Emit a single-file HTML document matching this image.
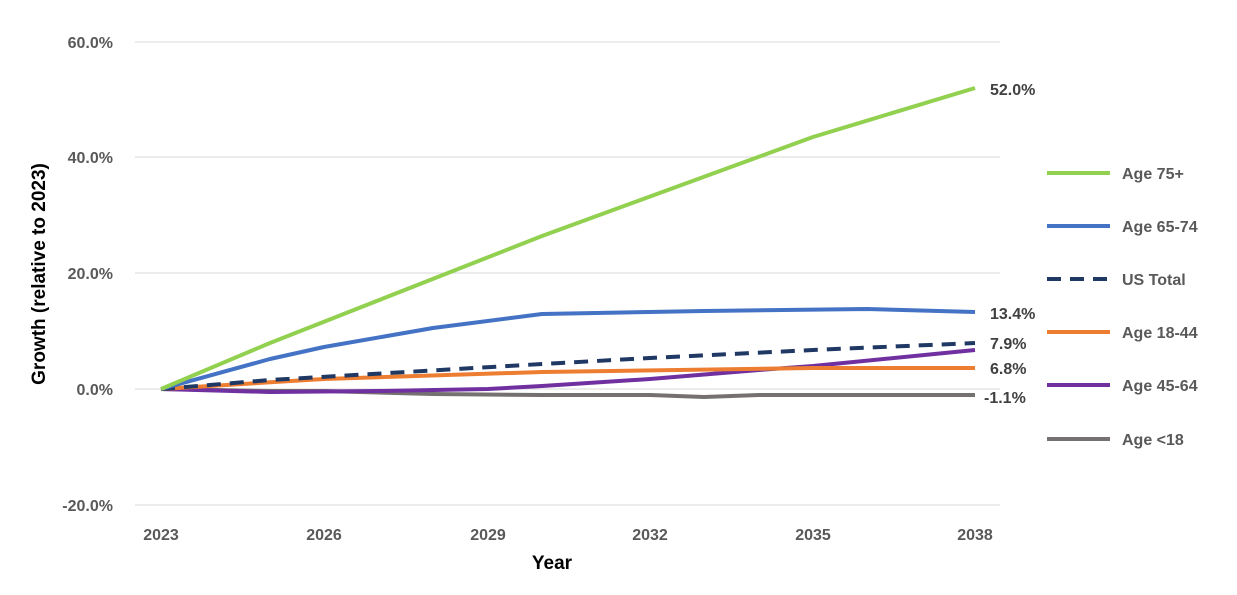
<!DOCTYPE html>
<html><head><meta charset="utf-8"><style>
html,body{margin:0;padding:0;background:#fff}
svg{display:block;font-family:"Liberation Sans",sans-serif}
.t{font-size:16px;font-weight:bold;fill:#595959}
.l{font-size:16px;font-weight:bold;fill:#404040}
</style></head><body>
<svg width="1237" height="595" viewBox="0 0 1237 595">
<g stroke="#d9d9d9" stroke-width="1">
<line x1="135" y1="42" x2="1000" y2="42"/>
<line x1="135" y1="157" x2="1000" y2="157"/>
<line x1="135" y1="273" x2="1000" y2="273"/>
<line x1="135" y1="389" x2="1000" y2="389"/>
<line x1="135" y1="505" x2="1000" y2="505"/>
</g>
<g class="t" text-anchor="end">
<text x="113" y="48">60.0%</text>
<text x="113" y="163">40.0%</text>
<text x="113" y="279">20.0%</text>
<text x="113" y="395">0.0%</text>
<text x="113" y="511">-20.0%</text>
</g>
<g class="t" text-anchor="middle">
<text x="161" y="540">2023</text>
<text x="324" y="540">2026</text>
<text x="488" y="540">2029</text>
<text x="650" y="540">2032</text>
<text x="813" y="540">2035</text>
<text x="975" y="540">2038</text>
</g>
<text x="552" y="569" text-anchor="middle" font-size="19" font-weight="bold" fill="#000">Year</text>
<text transform="translate(45,274) rotate(-90)" text-anchor="middle" font-size="19" font-weight="bold" fill="#000">Growth (relative to 2023)</text>
<g fill="none" stroke-width="4" stroke-linejoin="round">
<polyline stroke="#767171" points="161,389 270,391 324,391 433,394 542,395 650,395 704,397 759,395 975,395"/>
<polyline stroke="#7030a0" points="161,389 270,392 378,391 488,389 542,386 650,379 759,370 813,366 975,350"/>
<polyline stroke="#ed7d31" points="161,389 324,379 542,372 813,368 975,368"/>
<polyline stroke="#1f3864" stroke-dasharray="14,9" points="161,389 270,380 542,364 650,358 813,350 975,343"/>
<polyline stroke="#4472c4" points="161,389 270,359 324,347 433,328 542,314 704,311 867,309 975,312"/>
<polyline stroke="#92d050" points="161,389 270,343 542,236 813,137 975,88"/>
</g>
<g class="l">
<text x="990" y="95">52.0%</text>
<text x="990" y="319">13.4%</text>
<text x="990" y="349">7.9%</text>
<text x="990" y="374">6.8%</text>
<text x="984" y="403">-1.1%</text>
</g>
<g stroke-width="4">
<line x1="1047" y1="173" x2="1110" y2="173" stroke="#92d050"/>
<line x1="1047" y1="226" x2="1110" y2="226" stroke="#4472c4"/>
<line x1="1047" y1="279" x2="1110" y2="279" stroke="#1f3864" stroke-dasharray="14,9"/>
<line x1="1047" y1="332" x2="1110" y2="332" stroke="#ed7d31"/>
<line x1="1047" y1="385" x2="1110" y2="385" stroke="#7030a0"/>
<line x1="1047" y1="439" x2="1110" y2="439" stroke="#767171"/>
</g>
<g class="t">
<text x="1122" y="179">Age 75+</text>
<text x="1122" y="232">Age 65-74</text>
<text x="1122" y="285">US Total</text>
<text x="1122" y="338">Age 18-44</text>
<text x="1122" y="391">Age 45-64</text>
<text x="1122" y="445">Age &lt;18</text>
</g>
</svg>
</body></html>
